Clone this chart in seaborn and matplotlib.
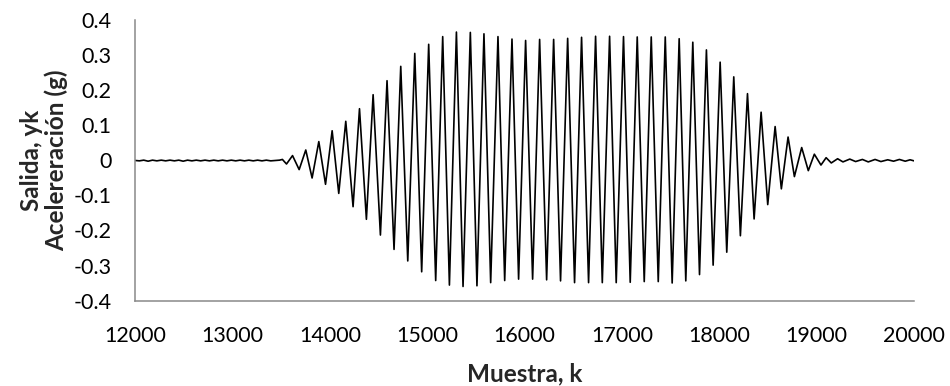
import numpy as np
import pandas as pd
import matplotlib
matplotlib.use("Agg")
import matplotlib.pyplot as plt
from matplotlib.ticker import FixedLocator, FuncFormatter
import seaborn as sns

quiet_start_k = [12000, 12040, 12085, 12130, 12175, 12220, 12265, 12310, 12355, 12400,
                 12445, 12490, 12535, 12580, 12625, 12670, 12715, 12760, 12805, 12850,
                 12895, 12940, 12985, 13030, 13075, 13120, 13165, 13210, 13255, 13300,
                 13345, 13390, 13435, 13480, 13510]
quiet_start_y = [0.000, -0.001, 0.001, -0.002, 0.001, -0.001, 0.001, -0.001, 0.001, -0.001,
                 0.001, -0.002, 0.001, -0.001, 0.001, -0.001, 0.001, -0.001, 0.001, -0.001,
                 0.001, -0.001, 0.001, -0.001, 0.001, -0.001, 0.001, -0.001, 0.001, -0.001,
                 0.001, -0.001, 0.000, 0.001, 0.003]

burst_k = [13552, 13614, 13682, 13750, 13815, 13884, 13953, 14021, 14089, 14161,
           14236, 14302, 14373, 14442, 14517, 14585, 14657, 14726, 14798, 14870,
           14941, 15013, 15085, 15157, 15226, 15298, 15366, 15441, 15509, 15581,
           15650, 15725, 15794, 15869, 15937, 16009, 16081, 16153, 16225, 16297,
           16368, 16441, 16512, 16584, 16656, 16728, 16797, 16872, 16940, 17015,
           17084, 17156, 17228, 17300, 17372, 17444, 17515, 17587, 17655, 17727,
           17796, 17867, 17936, 18008, 18076, 18148, 18216, 18289, 18357, 18429,
           18497, 18573, 18637, 18706, 18771, 18846, 18914, 18976, 19044]
burst_y = [-0.010, 0.014, -0.026, 0.030, -0.050, 0.054, -0.068, 0.085, -0.094, 0.112,
           -0.132, 0.148, -0.168, 0.188, -0.213, 0.228, -0.254, 0.269, -0.287, 0.306,
           -0.318, 0.332, -0.343, 0.354, -0.356, 0.367, -0.360, 0.366, -0.358, 0.362,
           -0.349, 0.354, -0.343, 0.347, -0.339, 0.343, -0.339, 0.346, -0.341, 0.346,
           -0.344, 0.349, -0.349, 0.352, -0.349, 0.355, -0.349, 0.355, -0.349, 0.354,
           -0.348, 0.353, -0.346, 0.353, -0.346, 0.353, -0.350, 0.348, -0.344, 0.338,
           -0.326, 0.316, -0.299, 0.281, -0.262, 0.239, -0.215, 0.191, -0.167, 0.138,
           -0.126, 0.097, -0.081, 0.067, -0.046, 0.037, -0.029, 0.018, -0.013]

quiet_end_k = [19097, 19150, 19215, 19270, 19340, 19400, 19470, 19530, 19600, 19660,
               19730, 19790, 19850, 19910, 19960, 20000]
quiet_end_y = [0.008, -0.007, 0.005, -0.004, 0.004, -0.003, 0.003, -0.004, 0.003, -0.003,
               0.002, -0.002, 0.003, -0.002, 0.002, -0.001]

x_ticks = [12000, 13000, 14000, 15000, 16000, 17000, 18000, 19000, 20000]
y_ticks = [-0.4, -0.3, -0.2, -0.1, 0.0, 0.1, 0.2, 0.3, 0.4]
x_title = "Muestra, k"
y_title = "Salida, yk\nAcelereración (g)"

df = pd.DataFrame({
    "k": quiet_start_k + burst_k + quiet_end_k,
    "y": quiet_start_y + burst_y + quiet_end_y,
})

# ---- style ----
sns.set_style("white")
plt.rcParams["font.family"] = ["Lato", "DejaVu Sans"]
plt.rcParams["axes.unicode_minus"] = False

fig = plt.figure(figsize=(9.5, 3.86), dpi=100)
ax = fig.add_axes([0.1426, 0.2215, 0.8195, 0.7254])

sns.lineplot(data=df, x="k", y="y", ax=ax, color="black", linewidth=1.2,
             sort=False, estimator=None, solid_joinstyle="round")

ax.set_xlim(12000, 20000)
ax.set_ylim(-0.4, 0.4)
ax.xaxis.set_major_locator(FixedLocator(x_ticks))
ax.yaxis.set_major_locator(FixedLocator(y_ticks))
ax.yaxis.set_major_formatter(FuncFormatter(lambda v, p: f"{round(v, 1):g}"))

grey = "#898989"
for s in ["top", "right"]:
    ax.spines[s].set_visible(False)
for s in ["left", "bottom"]:
    ax.spines[s].set_color(grey)
    ax.spines[s].set_linewidth(1.1)

ax.tick_params(axis="both", direction="in", length=5, width=1.1, color=grey,
               labelsize=15.5, labelcolor="black")
ax.tick_params(axis="y", pad=17)
ax.tick_params(axis="x", pad=18)

ax.set_xlabel(x_title, fontsize=17.5, fontweight="bold", labelpad=12)
ax.set_ylabel(y_title, fontsize=17.5, fontweight="bold", labelpad=4, linespacing=1.1)

fig.savefig("out.png", dpi=100, facecolor="white")
